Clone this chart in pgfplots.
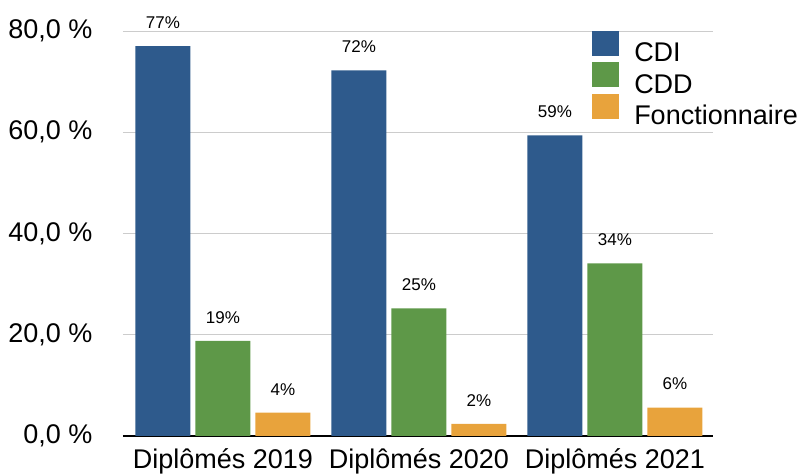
\documentclass[border=0pt]{standalone}
\usepackage{pgfplots}
\pgfplotsset{compat=1.18}
\usepackage{fontspec}
\setmainfont{Liberation Sans}
\definecolor{cdi}{RGB}{46,90,140}
\definecolor{cdd}{RGB}{94,152,72}
\definecolor{fon}{RGB}{232,163,60}
\begin{document}
\begin{tikzpicture}
\begin{axis}[
  scale only axis, width=590pt, height=405pt,
  ymin=0, ymax=80, xmin=-0.51, xmax=2.5,
  ybar, bar width=55pt,
  axis x line*=bottom, axis y line*=left,
  x axis line style={line width=1.8pt, -},
  y axis line style={draw=none},
  /pgf/number format/assume math mode=true,
  ytick={0,20,40,60,80},
  yticklabels={{0,0 \%},{20,0 \%},{40,0 \%},{60,0 \%},{80,0 \%}},
  ymajorgrids, grid style={gray!40, line width=0.9pt},
  major tick length=0pt,
  xtick={0,1,2},
  xticklabels={Diplômés 2019,Diplômés 2020,Diplômés 2021},
  ticklabel style={font=\fontsize{27}{29}\selectfont},
  yticklabel style={xshift=-27pt},
  xticklabel style={yshift=-9pt},
  clip=false,
  nodes near coords={\pgfmathprintnumber[fixed,precision=0,assume math mode=true]{\pgfplotspointmeta}\%},
  point meta=explicit,
  every node near coord/.append style={font=\fontsize{17}{19}\selectfont, yshift=14pt, color=black},
  legend style={draw=none, fill=none, at={(0.795,1.0)}, anchor=north west,
    font=\fontsize{27}{28}\selectfont, row sep=-3pt, inner sep=0pt,
    cells={anchor=west}, nodes={inner xsep=15pt}},
  legend image code/.code={\fill[#1] (0pt,-3pt) rectangle (27pt,22pt);},
]
\addplot[fill=cdi, draw=none, bar shift=-60pt] coordinates {(0,77.0) [77] (1,72.2) [72] (2,59.4) [59]};
\addplot[fill=cdd, draw=none, bar shift=0pt] coordinates {(0,18.8) [19] (1,25.2) [25] (2,34.1) [34]};
\addplot[fill=fon, draw=none, bar shift=60pt] coordinates {(0,4.6) [4] (1,2.4) [2] (2,5.6) [6]};
\legend{CDI,CDD,Fonctionnaire}
\end{axis}
\pgfresetboundingbox
\path ([xshift=-123pt,yshift=-38pt]current axis.south west) rectangle ([xshift=90pt,yshift=31pt]current axis.north east);
\end{tikzpicture}
\end{document}
